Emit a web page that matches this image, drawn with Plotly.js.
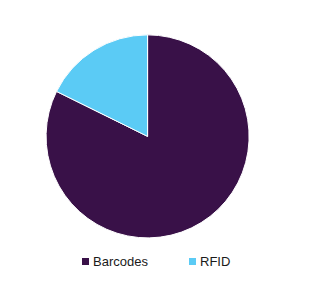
<!DOCTYPE html>
<html>
<head>
<meta charset="utf-8">
<script src="https://cdn.plot.ly/plotly-3.0.1.min.js"></script>
<style>html,body{margin:0;padding:0;background:#fff;}#chart{width:324px;height:293px;}</style>
</head>
<body>
<div id="chart"></div>
<script>
const categories = ["Barcodes", "RFID"];
const shares = [82.3, 17.7];
const colors = ["#391148", "#5BCBF5"];

const W = 324, H = 293;

const data = [{
  type: "pie",
  labels: categories,
  values: shares,
  sort: false,
  direction: "clockwise",
  rotation: 0,
  textinfo: "none",
  hoverinfo: "label+percent",
  showlegend: false,
  marker: { colors: colors, line: { color: "#ffffff", width: 1 } },
  domain: { x: [0.142, 0.769], y: [0.188, 0.881] }
}];

// Legend entries laid out horizontally below the pie
const legendStartPx = [82, 189];   // left edge of each legend square
const legendCenterPy = 261.5;      // vertical centre of legend row
const sq = 7;

const shapes = categories.map((c, i) => ({
  type: "rect", xref: "paper", yref: "paper",
  x0: legendStartPx[i] / W, x1: (legendStartPx[i] + sq) / W,
  y0: (H - legendCenterPy - sq / 2) / H, y1: (H - legendCenterPy + sq / 2) / H,
  fillcolor: colors[i], line: { width: 0 }
}));

const annotations = categories.map((c, i) => ({
  text: c, xref: "paper", yref: "paper", showarrow: false,
  x: (legendStartPx[i] + sq + 1.5) / W, xanchor: "left",
  y: (H - legendCenterPy) / H, yanchor: "middle",
  font: { family: "Liberation Sans, Arial, sans-serif", size: 13, color: "#1a1a1a" }
}));

const layout = {
  width: W,
  height: H,
  margin: { l: 0, r: 0, t: 0, b: 0 },
  paper_bgcolor: "#ffffff",
  showlegend: false,
  shapes: shapes,
  annotations: annotations
};

Plotly.newPlot("chart", data, layout, { displayModeBar: false, staticPlot: true });
</script>
</body>
</html>
